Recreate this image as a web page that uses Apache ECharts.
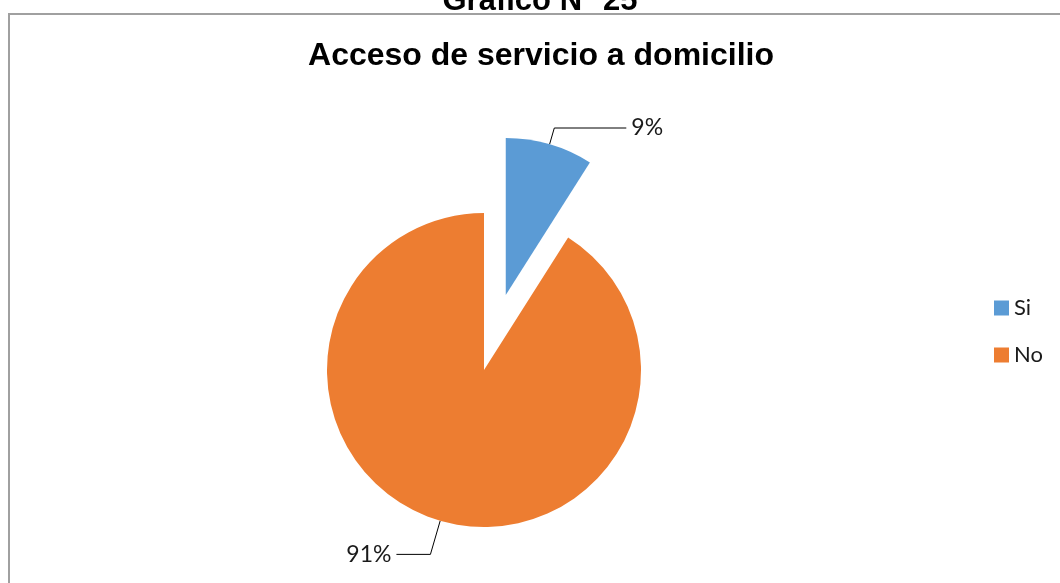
<!DOCTYPE html>
<html>
<head>
<meta charset="utf-8">
<script src="https://cdn.jsdelivr.net/npm/echarts@6/dist/echarts.min.js"></script>
<style>
html,body{margin:0;padding:0;background:#fff;}
#chart{width:1060px;height:583px;}
</style>
</head>
<body>
<div id="chart"></div>
<script>
const categories = ['Si', 'No'];
const values = [9, 91];
const colors = ['#5B9BD5', '#ED7D31'];
const figureTitle = 'Gráfico N° 25';
const chartTitle = 'Acceso de servicio a domicilio';

const chart = echarts.init(document.getElementById('chart'), null, {renderer: 'canvas'});

const data = categories.map((c, i) => ({
  name: c,
  value: values[i],
  selected: i === 0,
  itemStyle: {color: colors[i]},
  labelLine: i === 0 ? {length: 17, length2: 72} : {length: 35, length2: 34}
}));

chart.setOption({
  animation: false,
  backgroundColor: '#ffffff',
  graphic: [{
    type: 'rect',
    shape: {x: 9, y: 14, width: 1100, height: 620},
    style: {fill: 'none', stroke: '#a0a0a0', lineWidth: 2},
    silent: true
  }],
  title: [{
    text: figureTitle,
    left: 535,
    textAlign: 'center',
    top: -19,
    textStyle: {fontFamily: 'Liberation Sans', fontWeight: 'bold', fontSize: 31, color: '#000'}
  }, {
    text: chartTitle,
    left: 536,
    textAlign: 'center',
    top: 35,
    textStyle: {fontFamily: 'Liberation Sans', fontWeight: 'bold', fontSize: 32, color: '#000'}
  }],
  legend: {
    orient: 'vertical',
    left: 994,
    top: 297,
    padding: 0,
    icon: 'rect',
    itemWidth: 15,
    itemHeight: 15,
    itemGap: 25,
    data: categories,
    textStyle: {fontFamily: 'Lato', fontSize: 22, color: '#1a1a1a'},
    selectedMode: false
  },
  series: [{
    type: 'pie',
    center: [484, 370],
    radius: 157,
    startAngle: 90,
    clockwise: true,
    selectedMode: 'single',
    selectedOffset: 78,
    data: data,
    label: {
      show: true,
      position: 'outside',
      formatter: '{c}%',
      fontFamily: 'Lato',
      fontSize: 23,
      color: '#1a1a1a'
    },
    labelLine: {
      show: true,
      lineStyle: {color: '#000', width: 1}
    },
    emphasis: {disabled: true}
  }]
});
</script>
</body>
</html>
